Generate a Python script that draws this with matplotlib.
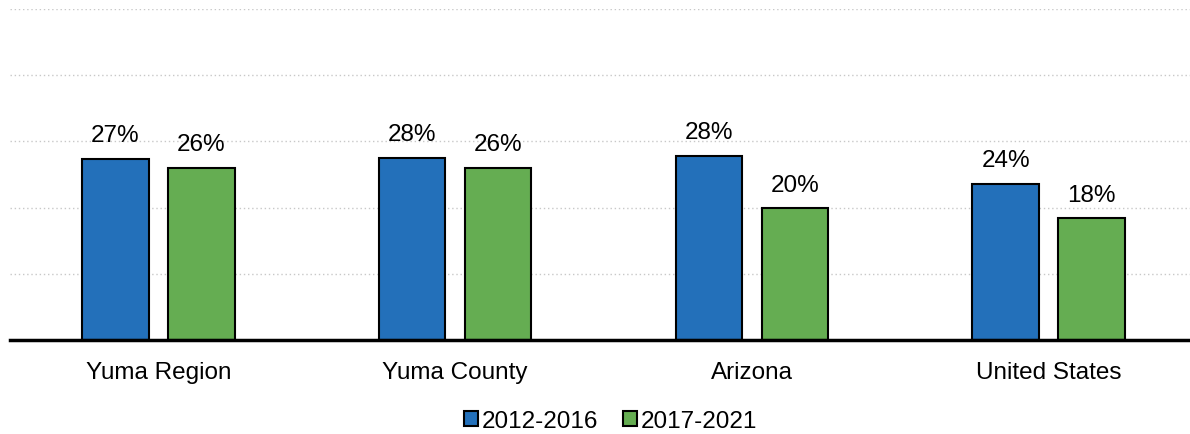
import numpy as np
import matplotlib.pyplot as plt

plt.rcParams['font.family'] = ['Liberation Sans', 'DejaVu Sans']

regions = ['Yuma Region', 'Yuma County', 'Arizona', 'United States']
period_a = [27.4, 27.5, 27.8, 23.6]
period_b = [26.0, 26.0, 19.9, 18.4]
label_a = ['27%', '28%', '28%', '24%']
label_b = ['26%', '26%', '20%', '18%']
series_names = ['2012-2016', '2017-2021']

blue = '#2370ba'
green = '#65ad52'

fig = plt.figure(figsize=(11.9, 4.35), dpi=100)
ax = fig.add_axes([10/1190, 94/435, 1187/1190, 331/435])

x = np.arange(len(regions))
w = 0.224
off = 0.145
b1 = ax.bar(x - off, period_a, w, color=blue, edgecolor='black', linewidth=1.5, label=series_names[0], zorder=3)
b2 = ax.bar(x + off, period_b, w, color=green, edgecolor='black', linewidth=1.5, label=series_names[1], zorder=3)
ax.bar_label(b1, labels=label_a, padding=9, fontsize=17.5)
ax.bar_label(b2, labels=label_b, padding=9, fontsize=17.5)

ax.set_xlim(-0.5, len(regions) - 0.5)
ax.set_ylim(0, 50)
ax.set_yticks([10, 20, 30, 40, 50])
ax.yaxis.grid(True, linestyle=(0, (1, 2)), color='#c8c8c8', linewidth=1)
ax.tick_params(axis='y', left=False, labelleft=False)
ax.set_xticks(x)
ax.set_xticklabels(regions, fontsize=17.5)
ax.tick_params(axis='x', length=0, pad=15)
for s in ['top', 'right', 'left']:
    ax.spines[s].set_visible(False)
ax.spines['bottom'].set_linewidth(2.5)
ax.spines['bottom'].set_zorder(4)

fig.legend(loc='center', bbox_to_anchor=(0.513, 0.03), ncol=2, frameon=False,
           fontsize=17.5, handlelength=0.6, handleheight=0.6, handletextpad=0.15,
           columnspacing=1.0)

fig.savefig('out.png', dpi=100)
